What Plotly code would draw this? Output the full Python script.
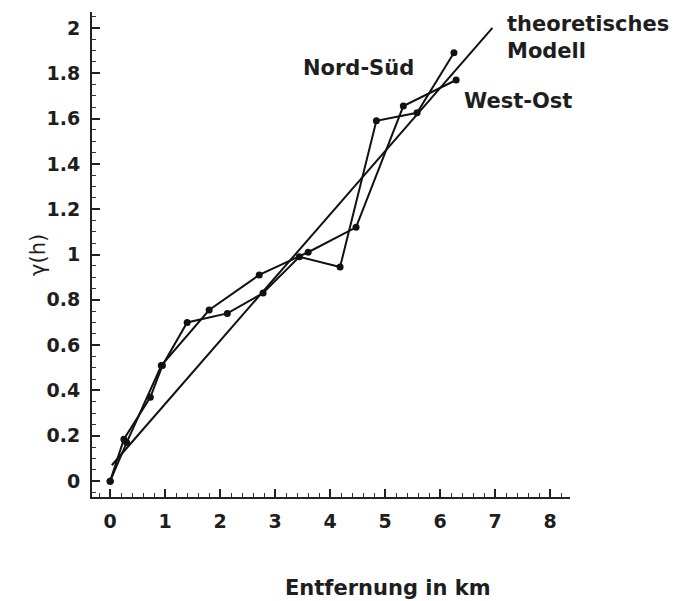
import plotly.graph_objects as go

# Nord-Süd semivariogram
ns_x = [0, 0.25, 0.73, 0.95, 1.4, 2.13, 2.78, 3.44, 4.18, 4.84, 5.58, 6.25]
ns_y = [0, 0.185, 0.37, 0.51, 0.70, 0.74, 0.83, 0.99, 0.945, 1.59, 1.625, 1.89]
# West-Ost semivariogram
wo_x = [0, 0.3, 0.93, 1.8, 2.71, 3.6, 4.47, 5.33, 6.29]
wo_y = [0, 0.17, 0.51, 0.755, 0.91, 1.01, 1.12, 1.655, 1.77]
# theoretical model (linear)
model_x = [0.03, 6.95]
model_y = [0.07, 2.0]

x_ticks = [0, 1, 2, 3, 4, 5, 6, 7, 8]
y_ticks = [0, 0.2, 0.4, 0.6, 0.8, 1, 1.2, 1.4, 1.6, 1.8, 2]
y_ticklabels = ["0", "0.2", "0.4", "0.6", "0.8", "1", "1.2", "1.4", "1.6", "1.8", "2"]

FONT = "DejaVu Sans, sans-serif"
TXT = "#1e1e1e"

fig = go.Figure()
fig.add_trace(go.Scatter(x=model_x, y=model_y, mode="lines",
                         line=dict(color="#111", width=2), showlegend=False,
                         name="theoretisches Modell"))
fig.add_trace(go.Scatter(x=ns_x, y=ns_y, mode="lines+markers",
                         line=dict(color="#111", width=2),
                         marker=dict(color="#111", size=7), showlegend=False,
                         name="Nord-Süd"))
fig.add_trace(go.Scatter(x=wo_x, y=wo_y, mode="lines+markers",
                         line=dict(color="#111", width=2),
                         marker=dict(color="#111", size=7), showlegend=False,
                         name="West-Ost"))

tickfont = dict(family=FONT, size=19, color=TXT, weight="bold")
fig.update_layout(
    width=673, height=601,
    margin=dict(l=92, r=103, t=12, b=104),
    paper_bgcolor="white", plot_bgcolor="white",
    font=dict(family=FONT, color=TXT),
    xaxis=dict(range=[-0.33, 8.36], tickvals=x_ticks, ticktext=[str(v) for v in x_ticks],
               showgrid=False, zeroline=False, showline=True, linecolor="#222", linewidth=2,
               ticks="inside", ticklen=8, tickwidth=1.5, tickcolor="#222",
               ticklabelstandoff=6, tickfont=tickfont,
               minor=dict(dtick=0.2, tick0=0, ticks="inside", ticklen=4, tickcolor="#333", tickwidth=1)),
    yaxis=dict(range=[-0.07, 2.07], tickvals=y_ticks, ticktext=y_ticklabels,
               showgrid=False, zeroline=False, showline=True, linecolor="#222", linewidth=2,
               ticks="inside", ticklen=8, tickwidth=1.5, tickcolor="#222",
               ticklabelstandoff=6, tickfont=tickfont,
               minor=dict(dtick=0.05, tick0=0, ticks="inside", ticklen=4, tickcolor="#333", tickwidth=1)),
)

bold = dict(family=FONT, size=21, color=TXT, weight="bold")
fig.add_annotation(x=4.51, y=1.823, xref="x", yref="y", text="Nord-Süd",
                   showarrow=False, font=bold, xanchor="center", yanchor="middle")
fig.add_annotation(x=7.42, y=1.678, xref="x", yref="y", text="West-Ost",
                   showarrow=False, font=bold, xanchor="center", yanchor="middle")
fig.add_annotation(x=7.18, y=1.956, xref="x", yref="y", text="theoretisches<br>Modell",
                   showarrow=False, font=bold, xanchor="left", yanchor="middle", align="left")
fig.add_annotation(x=5.05, y=-0.188, xref="x", yref="paper", text="Entfernung in km",
                   showarrow=False, font=bold, xanchor="center", yanchor="middle")
fig.add_annotation(x=-0.113, y=0.998, xref="paper", yref="y", text="γ(h)",
                   showarrow=False, textangle=-90, xanchor="center", yanchor="middle",
                   font=dict(family=FONT, size=21, color=TXT))

fig.write_html("out.html")
